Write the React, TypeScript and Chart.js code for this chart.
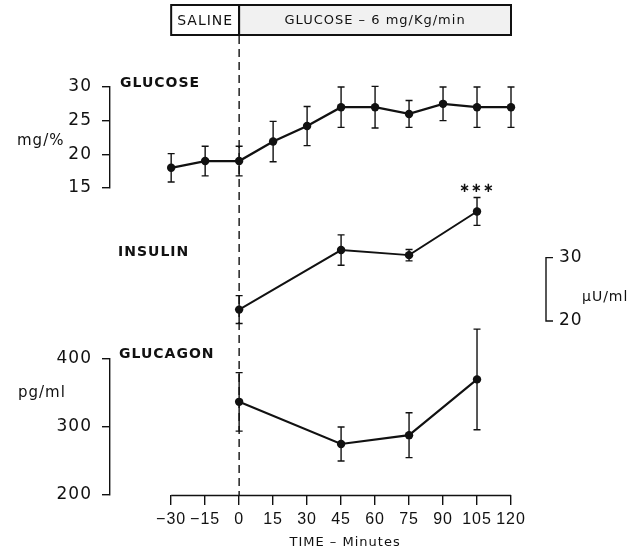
import React, { useEffect, useRef } from "react";
import { Chart, registerables } from "chart.js";

Chart.register(...registerables);

// ---- data ----
const minutes = [-30, -15, 0, 15, 30, 45, 60, 75, 90, 105, 120];
const xTickLabels = ["−30", "−15", "0", "15", "30", "45", "60", "75", "90", "105", "120"];

const glucoseTimes = [-30, -15, 0, 15, 30, 45, 60, 75, 90, 105, 120];
const glucoseMean = [18.0, 19.0, 19.0, 21.9, 24.2, 27.0, 27.0, 26.0, 27.5, 27.0, 27.0];
const glucoseSem = [2.1, 2.2, 2.2, 3.0, 2.9, 3.0, 3.1, 2.0, 2.5, 3.0, 3.0];

const insulinTimes = [0, 45, 75, 105];
const insulinMean = [21.8, 31.2, 30.4, 37.3];
const insulinSem = [2.2, 2.4, 0.9, 2.2];

const glucagonTimes = [0, 45, 75, 105];
const glucagonMean = [337, 275, 288, 370];
const glucagonSem = [43, 25, 33, 74];

const glucoseTicks = [15, 20, 25, 30];
const glucagonTicks = [200, 300, 400];
const insulinScaleTicks = [20, 30];

const phaseLabels = ["SALINE", "GLUCOSE – 6 mg/Kg/min"];
const phaseStart = [-30, 0];
const phaseEnd = [0, 120];

const significance = "∗∗∗";

export default function App() {
  const ref = useRef<HTMLCanvasElement>(null);

  useEffect(() => {
    const canvas = ref.current;
    if (!canvas) return;
    const ink = "#111";
    const family = "'DejaVu Sans', sans-serif";
    const xFamily = "'Liberation Sans', Arial, sans-serif";
    const errorSets = [glucoseSem, insulinSem, glucagonSem];

    const spacing = {
      id: "spacing",
      beforeUpdate(c: any) {
        c.ctx.letterSpacing = "1px";
      },
      beforeDraw(c: any) {
        c.ctx.letterSpacing = "1px";
      },
    };

    const decor = {
      id: "decor",
      beforeDatasetsDraw(c: any) {
        const { ctx, chartArea: a, scales } = c;
        const xs = scales.x;
        ctx.save();
        ctx.strokeStyle = ink;
        // dashed line at start of glucose infusion
        ctx.lineWidth = 1.4;
        ctx.setLineDash([8, 5]);
        const x0 = xs.getPixelForValue(phaseStart[1]);
        ctx.beginPath();
        ctx.moveTo(x0, a.top - 51);
        ctx.lineTo(x0, a.bottom);
        ctx.stroke();
        ctx.setLineDash([]);
        // error bars
        ctx.lineWidth = 1.4;
        c.data.datasets.forEach((ds: any, di: number) => {
          const ys = scales[ds.yAxisID];
          const errs = errorSets[di];
          c.getDatasetMeta(di).data.forEach((pt: any, i: number) => {
            const v = ds.data[i].y;
            const t = ys.getPixelForValue(v + errs[i]);
            const b = ys.getPixelForValue(v - errs[i]);
            ctx.beginPath();
            ctx.moveTo(pt.x, t);
            ctx.lineTo(pt.x, b);
            ctx.moveTo(pt.x - 3.5, t);
            ctx.lineTo(pt.x + 3.5, t);
            ctx.moveTo(pt.x - 3.5, b);
            ctx.lineTo(pt.x + 3.5, b);
            ctx.stroke();
          });
        });
        ctx.restore();
      },
      afterDraw(c: any) {
        const { ctx, chartArea: a, scales } = c;
        const xs = scales.x;
        const yG = scales.yG;
        const yI = scales.yI;
        const yC = scales.yC;
        ctx.save();
        ctx.strokeStyle = ink;
        ctx.fillStyle = ink;

        // x axis line from first to last tick
        ctx.lineWidth = 1.6;
        ctx.beginPath();
        ctx.moveTo(xs.getPixelForValue(minutes[0]), a.bottom + 0.5);
        ctx.lineTo(xs.getPixelForValue(minutes[minutes.length - 1]), a.bottom + 0.5);
        ctx.stroke();

        // treatment boxes on top
        const boxTop = a.top - 82;
        const boxBottom = a.top - 52;
        ctx.lineWidth = 2;
        phaseLabels.forEach((lab, i) => {
          const l = xs.getPixelForValue(phaseStart[i]);
          const r = xs.getPixelForValue(phaseEnd[i]);
          if (i === 1) {
            ctx.fillStyle = "#f1f1f1";
            ctx.fillRect(l, boxTop, r - l, boxBottom - boxTop);
          }
          ctx.strokeRect(l, boxTop, r - l, boxBottom - boxTop);
          ctx.fillStyle = ink;
          ctx.font = `${i === 0 ? 14 : 13}px ${family}`;
          ctx.textAlign = "center";
          ctx.textBaseline = "middle";
          ctx.fillText(lab, (l + r) / 2, (boxTop + boxBottom) / 2 + 1);
        });

        // panel names and units
        ctx.textAlign = "left";
        ctx.textBaseline = "middle";
        ctx.font = `bold 14px ${family}`;
        ctx.fillText("GLUCOSE", a.left + 10, yG.getPixelForValue(30) - 4);
        ctx.fillText("INSULIN", a.left + 8, yI.getPixelForValue(30) - 5);
        ctx.fillText("GLUCAGON", a.left + 9, yC.getPixelForValue(400) - 5);
        ctx.font = `15px ${family}`;
        ctx.fillText("mg/%", a.left - 93, yG.getPixelForValue(21.9));
        ctx.fillText("pg/ml", a.left - 92, yC.getPixelForValue(350));

        // significance mark
        ctx.textAlign = "center";
        ctx.font = `bold 13px ${family}`;
        const last = insulinMean.length - 1;
        ctx.fillText(
          significance,
          xs.getPixelForValue(insulinTimes[last]),
          yI.getPixelForValue(insulinMean[last] + insulinSem[last]) - 9
        );

        // insulin scale bracket
        const bx = a.right + 35;
        const yTop = yI.getPixelForValue(insulinScaleTicks[1]);
        const yBot = yI.getPixelForValue(insulinScaleTicks[0]);
        ctx.lineWidth = 1.4;
        ctx.beginPath();
        ctx.moveTo(bx + 7, yTop);
        ctx.lineTo(bx, yTop);
        ctx.lineTo(bx, yBot);
        ctx.lineTo(bx + 7, yBot);
        ctx.stroke();
        ctx.textAlign = "left";
        ctx.font = `17px ${family}`;
        ctx.fillText(String(insulinScaleTicks[1]), bx + 13, yTop);
        ctx.fillText(String(insulinScaleTicks[0]), bx + 13, yBot);
        ctx.font = `14px ${family}`;
        ctx.fillText("µU/ml", bx + 36, (yTop + yBot) / 2 + 8);

        // x axis title
        ctx.textAlign = "center";
        ctx.font = `13px ${family}`;
        const mid = (xs.getPixelForValue(minutes[0]) + xs.getPixelForValue(minutes[minutes.length - 1])) / 2;
        ctx.fillText("TIME – Minutes", mid + 4, a.bottom + 48);
        ctx.restore();
      },
    };

    const lineStyle = (w: number) => ({
      borderColor: ink,
      backgroundColor: ink,
      borderWidth: w,
      pointRadius: 4.2,
      pointBorderWidth: 0,
      pointBackgroundColor: ink,
      tension: 0,
      clip: false as any,
    });

    const yTickOpts = { autoSkip: false, color: ink, font: { family, size: 17 }, padding: 10 };
    const yGrid = { display: true, drawOnChartArea: false, drawTicks: true, tickLength: 8, color: ink, lineWidth: 1.4 };

    const chart = new Chart(canvas, {
      type: "line",
      data: {
        datasets: [
          {
            label: "Glucose",
            data: glucoseTimes.map((t, i) => ({ x: t, y: glucoseMean[i] })),
            yAxisID: "yG",
            ...lineStyle(2.3),
          },
          {
            label: "Insulin",
            data: insulinTimes.map((t, i) => ({ x: t, y: insulinMean[i] })),
            yAxisID: "yI",
            ...lineStyle(1.9),
          },
          {
            label: "Glucagon",
            data: glucagonTimes.map((t, i) => ({ x: t, y: glucagonMean[i] })),
            yAxisID: "yC",
            ...lineStyle(2.1),
          },
        ],
      },
      options: {
        animation: false,
        responsive: false,
        events: [],
        layout: { padding: { top: 87, left: 10, right: 130, bottom: 19 } },
        plugins: { legend: { display: false }, tooltip: { enabled: false } },
        scales: {
          x: {
            type: "linear",
            min: -57,
            max: 120,
            afterBuildTicks: (s: any) => {
              s.ticks = minutes.map((v) => ({ value: v }));
            },
            afterFit: (s: any) => {
              s.height = 40;
            },
            ticks: {
              autoSkip: false,
              maxRotation: 0,
              padding: 5,
              color: ink,
              font: { family: xFamily, size: 16 },
              callback: (_v: any, i: number) => xTickLabels[i],
            },
            grid: { display: true, drawOnChartArea: false, drawTicks: true, tickLength: 10, color: ink, lineWidth: 1.4 },
            border: { display: false },
          },
          yG: {
            type: "linear",
            position: "left",
            stack: "panels",
            stackWeight: 101,
            weight: 3,
            min: 15,
            max: 30,
            afterBuildTicks: (s: any) => {
              s.ticks = glucoseTicks.map((v) => ({ value: v }));
            },
            afterFit: (s: any) => {
              s.width = 100;
            },
            ticks: yTickOpts,
            grid: yGrid,
            border: { display: true, color: ink, width: 1.4 },
          },
          yI: {
            type: "linear",
            position: "left",
            stack: "panels",
            stackWeight: 171,
            weight: 2,
            min: 14,
            max: 41,
            afterFit: (s: any) => {
              s.width = 100;
            },
            ticks: { display: false },
            grid: { display: false },
            border: { display: false },
          },
          yC: {
            type: "linear",
            position: "left",
            stack: "panels",
            stackWeight: 136,
            weight: 1,
            min: 200,
            max: 400,
            afterBuildTicks: (s: any) => {
              s.ticks = glucagonTicks.map((v) => ({ value: v }));
            },
            afterFit: (s: any) => {
              s.width = 100;
            },
            ticks: yTickOpts,
            grid: yGrid,
            border: { display: true, color: ink, width: 1.4 },
          },
        },
      } as any,
      plugins: [spacing, decor],
    });

    return () => chart.destroy();
  }, []);

  return (
    <canvas
      ref={ref}
      width={641}
      height={554}
      style={{ position: "absolute", left: 0, top: 0, display: "block", width: 641, height: 554 }}
    />
  );
}
